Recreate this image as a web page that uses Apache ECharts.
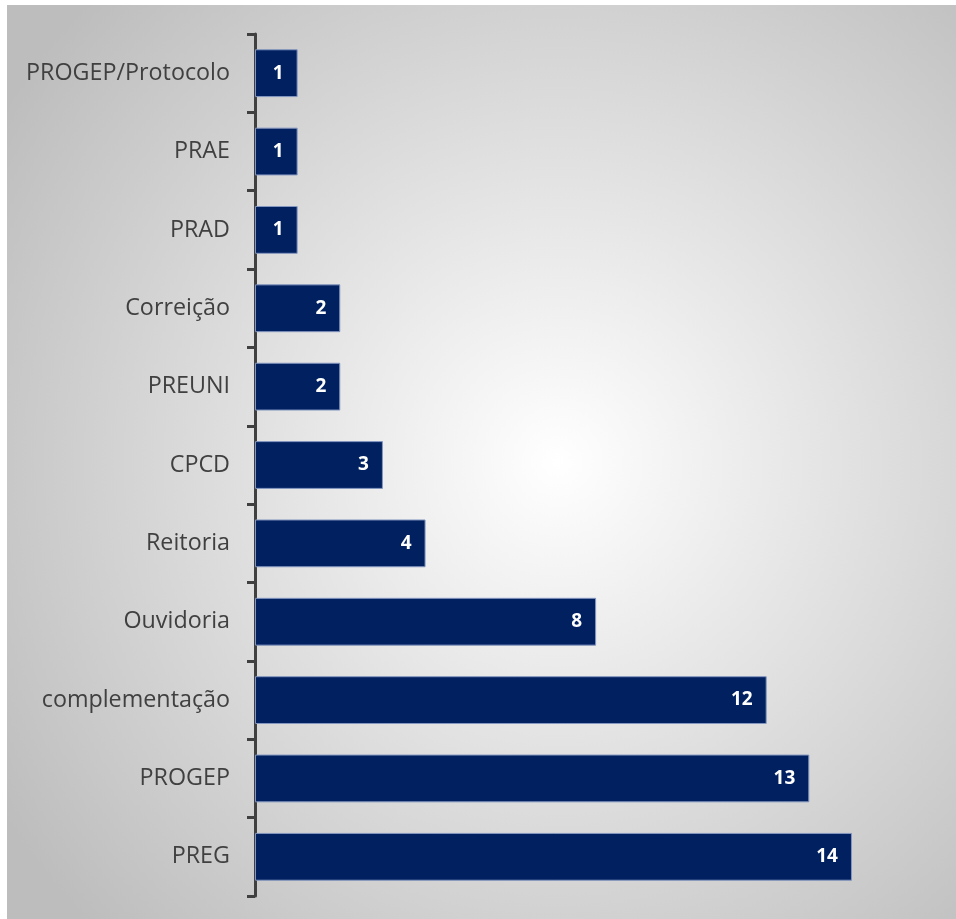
<!DOCTYPE html>
<html>
<head>
<meta charset="utf-8">
<style>
  html, body { margin: 0; padding: 0; background: #ffffff; }
  #chart { width: 956px; height: 919px; }
</style>
<script src="https://cdn.jsdelivr.net/npm/echarts@6/dist/echarts.min.js"></script>
</head>
<body>
<div id="chart"></div>
<script>
// Units, listed bottom-to-top as drawn on the category axis
const categories = ['PREG', 'PROGEP', 'complementação', 'Ouvidoria', 'Reitoria', 'CPCD', 'PREUNI', 'Correição', 'PRAD', 'PRAE', 'PROGEP/Protocolo'];
const counts = [14, 13, 12, 8, 4, 3, 2, 2, 1, 1, 1];

const chart = echarts.init(document.getElementById('chart'), null, { renderer: 'canvas' });

chart.setOption({
  animation: false,
  graphic: [{
    type: 'rect',
    z: -10,
    silent: true,
    shape: { x: 7, y: 5, width: 949, height: 914 },
    style: {
      fill: {
        type: 'radial', x: 0.58, y: 0.5, r: 0.72,
        colorStops: [
          { offset: 0, color: '#ffffff' },
          { offset: 1, color: '#bdbdbd' }
        ]
      }
    }
  }],
  grid: { left: 255, top: 34, width: 639.6, height: 862, containLabel: false },
  xAxis: {
    type: 'value', min: 0, max: 15, show: false
  },
  yAxis: {
    type: 'category',
    data: categories,
    axisLine: { show: true, lineStyle: { color: '#404040', width: 3 } },
    axisTick: { show: true, length: 8, lineStyle: { color: '#404040', width: 3 } },
    axisLabel: {
      margin: 25,
      color: '#404040',
      fontFamily: 'Open Sans',
      fontSize: 23.3
    },
    splitLine: { show: false }
  },
  series: [{
    type: 'bar',
    data: counts,
    barCategoryGap: '39%',
    itemStyle: { color: '#002060', borderColor: '#8497c0', borderWidth: 1 },
    label: {
      show: true,
      position: 'insideRight',
      distance: 14,
      color: '#ffffff',
      fontWeight: 'bold',
      fontFamily: 'Open Sans',
      fontSize: 19
    }
  }]
});
</script>
</body>
</html>
